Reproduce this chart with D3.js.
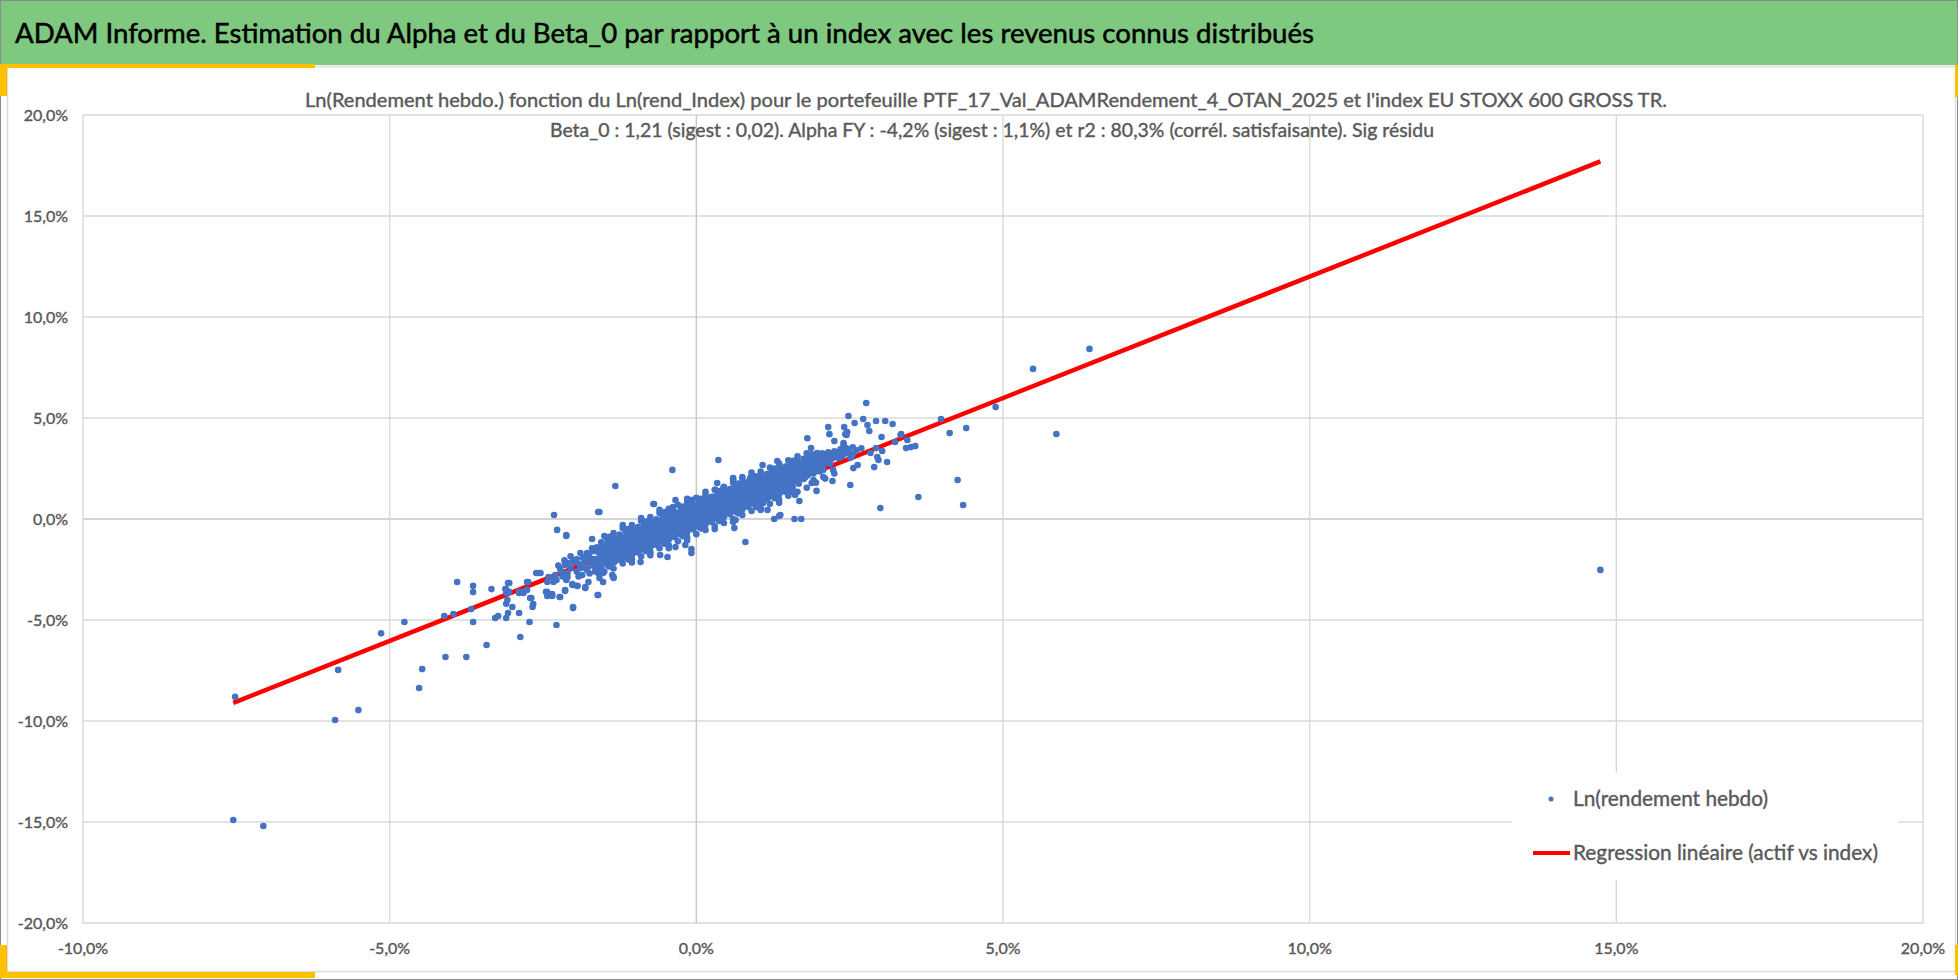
<!DOCTYPE html>
<html>
<head>
<meta charset="utf-8">
<script src="https://cdn.jsdelivr.net/npm/d3@7"></script>
<style>
body { margin: 0; background: #fff; }
svg text { font-family: Lato, "Noto Sans", sans-serif; }
</style>
</head>
<body>
<div id="chart"></div>
<script>
// texts
const mainTitle = "ADAM Informe. Estimation du Alpha et du Beta_0 par rapport à un index avec les revenus connus distribués";
const subTitle1 = "Ln(Rendement hebdo.) fonction du Ln(rend_Index) pour le portefeuille PTF_17_Val_ADAMRendement_4_OTAN_2025 et l'index EU STOXX 600 GROSS TR.";
const subTitle2 = "Beta_0 : 1,21 (sigest : 0,02).  Alpha FY : -4,2% (sigest : 1,1%) et r2 : 80,3% (corrél. satisfaisante). Sig résidu";
const legendLabels = ["Ln(rendement hebdo)", "Regression linéaire (actif vs index)"];

// axes (in %)
const xTicks = [-10, -5, 0, 5, 10, 15, 20];
const yTicks = [-20, -15, -10, -5, 0, 5, 10, 15, 20];

// regression line end points (index %, asset %)
const regX = [-7.55, 14.74];
const regY = [-9.1, 17.7];

// weekly log returns [index %, asset %] : lower-left tail
const tailLow = [
  [-7.55,-14.9],[-7.06,-15.2],[-7.52,-8.8],[-5.84,-7.47],[-5.51,-9.46],[-5.89,-9.95],[-5.14,-5.66],
  [-4.76,-5.1],[-4.52,-8.37],[-4.47,-7.43],[-4.09,-6.83],[-4.11,-4.8],[-3.96,-4.7],[-3.9,-3.12],
  [-3.75,-6.83],[-3.67,-4.46],[-3.64,-3.31],[-3.64,-3.62],[-3.64,-5.1],[-3.42,-6.24],[-3.34,-3.47],
  [-3.28,-4.9],[-3.23,-4.8],[-3.11,-3.47],[-3.1,-4.2],[-3.1,-4.9],[-3.07,-3.17],[-3.07,-4.65],
  [-3.0,-4.36],[-2.89,-4.65],[-2.89,-3.66],[-2.87,-5.84],[-2.82,-3.66],[-2.76,-3.12],[-2.72,-5.1],
  [-2.69,-3.91],[-2.66,-4.21],[-2.61,-2.67],[-2.54,-2.67],[-2.43,-3.12],[-2.43,-3.62],[-2.41,-2.87],
  [-2.35,-3.71],[-2.32,0.2],[-2.27,-0.54],[-2.12,-0.79],[-2.12,-0.84],[-2.32,-3.02],[-2.28,-5.25],
  [-2.22,-2.48],[-2.22,-3.86],[-2.14,-2.28],[-2.14,-3.52],[-2.1,-2.87],[-2.01,-4.41],[-2.02,-3.22],
  [-2.0,-2.13],[-1.94,-3.31],[-1.89,-1.68],[-1.89,-2.43],[-1.81,-3.42],[-1.76,-3.12],[-1.7,-0.99],
  [-1.78,-2.03],[-1.6,0.35],[-1.58,0.35],[-1.6,-3.76],[-1.61,-1.98],[-1.6,-2.67],[-1.6,-1.63],
  [-3.11,-3.47],[-3.05,-3.17],[-3.1,-3.66],[-3.08,-4.01],[-3.05,-3.61],[-2.89,-3.61],[-2.82,-3.61],
  [-2.74,-3.12],[-2.76,-3.51],[-2.71,-3.91],[-2.67,-4.36],[-2.59,-2.67],[-2.45,-3.61],[-2.43,-3.81],
  [-2.35,-3.81],[-2.33,-3.12],[-2.28,-3.02],[-2.23,-3.86],[-2.3,-2.77],[-2.12,-3.02],[-2.1,-2.67],
  [-2.14,-3.56],[-2.01,-2.03],[-2.02,-3.27],[-1.94,-3.32],[-2.01,-4.36],[-1.97,-2.13],[-1.84,-2.18],
  [-1.78,-1.68],[-1.78,-2.52],[-1.81,-3.37],[-1.86,-2.77],[-1.68,-1.98],[-1.65,-2.38],[-1.61,-2.62],
  [-1.58,-2.92],[-1.61,-3.76],[-1.52,-3.12],[-1.48,-1.93],[-1.45,-1.68],[-1.43,-1.39],[-1.4,-2.28],
  [-1.37,-2.77],[-1.35,-2.92],[-1.08,-2.03],[-0.91,-2.13],[-1.35,-2.87],[-1.52,-2.67],[-1.68,-2.18],
  [-2.1,-2.18],[-0.59,-1.78],[-0.47,-1.88],[-0.34,-1.39],[-0.18,-1.29],[-0.08,-1.49],[-0.08,-1.68],
  [-2.25,-2.3],[-2.2,-2.6],[-2.15,-2.05],[-2.05,-2.4],[-1.95,-2.0],[-1.9,-2.25],[-1.85,-1.9],
  [-1.75,-1.85],[-1.72,-2.3],[-1.68,-1.6],[-1.65,-2.6],[-2.05,-1.85],[-1.95,-2.6],[-1.8,-2.45],
  [-1.7,-1.45],[-1.92,-2.85],[-1.74,-2.7],[-2.18,-2.85]
];

// upper-right tail and scattered points
const tailHigh = [
  [-1.32,1.63],[-0.69,0.74],[-0.7,0.74],[-0.39,2.43],[-0.08,0.94],[0.36,2.92],[0.8,-1.14],
  [1.27,0],[1.37,0.2],[1.35,0.15],[1.6,0],[1.71,0],[1.16,0.45],[0.98,0.59],[1.68,0.89],[1.61,1.19],
  [1.96,1.39],[1.91,1.83],[2.22,1.88],[2.51,1.68],[3.0,0.54],[3.62,1.09],[1.81,4.0],[2.15,4.55],
  [2.17,4.2],[2.25,3.86],[2.48,5.1],[2.41,4.55],[2.58,4.75],[2.72,4.95],[2.77,5.74],[2.79,4.65],
  [2.82,4.36],[2.93,4.85],[3.08,4.85],[3.2,4.7],[3.02,4.06],[2.4,3.76],[2.43,4.2],[2.46,4.31],
  [3.34,4.2],[3.24,3.81],[3.44,3.91],[3.42,3.51],[3.57,3.61],[3.5,3.56],[3.99,4.95],[4.13,4.26],
  [2.95,3.07],[2.97,2.92],[3.11,2.82],[2.9,2.57],[2.84,3.27],[2.63,2.67],[2.56,2.52],[2.23,2.43],
  [2.07,2.43],[1.89,3.02],[1.97,3.27],[1.87,3.51],[3.03,3.37],[4.4,4.5],[4.88,5.54],[5.49,7.43],
  [6.41,8.42],[5.87,4.21],[4.26,1.93],[4.35,0.69],[3.33,4.16],[2.93,3.51],[14.74,-2.52],
  [2.45,4.16],[2.4,3.66],[2.48,3.42],[2.27,3.17],[2.32,3.02],[-0.34,0.94],[-0.38,0.59],[-0.42,0.35],
  [-0.51,0.35],[-0.07,0.94],[0.31,1.44],[0.34,1.78],[0.44,1.53],[0.6,2.03],[0.75,2.08],[0.88,2.03],
  [1.08,2.67],[1.32,2.87],[1.58,2.82],[1.7,2.67],[0.67,0.35],[0.64,-0.05],[0.62,-0.45],[0.96,0.84],
  [1.09,0.79],[1.37,1.44],[1.53,1.34],[1.66,1.93],[1.78,2.08],[1.91,1.93],[2.07,2.08]
];

// dense core of the cloud
const core = [
  [-1.62,-1.4],[-1.58,-1.7],[-1.63,-2.0],[-1.57,-2.3],[-1.6,-1.55],[-1.64,-2.15],
  [-1.52,-1.3],[-1.48,-1.6],[-1.51,-1.9],[-1.47,-2.2],[-1.53,-1.75],
  [-1.41,-1.1],[-1.38,-1.45],[-1.42,-1.7],[-1.39,-2.0],[-1.43,-2.3],
  [-1.31,-1.0],[-1.28,-1.3],[-1.32,-1.55],[-1.29,-1.85],[-1.33,-2.1],
  [-1.21,-0.95],[-1.18,-1.2],[-1.22,-1.45],[-1.19,-1.7],[-1.23,-2.0],
  [-1.11,-0.8],[-1.08,-1.05],[-1.12,-1.3],[-1.09,-1.6],[-1.13,-1.85],
  [-1.01,-0.6],[-0.98,-0.9],[-1.02,-1.15],[-0.99,-1.4],[-1.03,-1.7],
  [-0.91,-0.5],[-0.88,-0.8],[-0.92,-1.05],[-0.89,-1.3],[-0.93,-1.55],
  [-0.81,-0.35],[-0.78,-0.65],[-0.82,-0.9],[-0.79,-1.15],[-0.83,-1.45],
  [-0.71,-0.2],[-0.68,-0.5],[-0.72,-0.75],[-0.69,-1.0],[-0.73,-1.3],
  [-0.61,-0.1],[-0.58,-0.4],[-0.62,-0.6],[-0.59,-0.85],[-0.63,-1.15],
  [-0.51,0.05],[-0.48,-0.25],[-0.52,-0.5],[-0.49,-0.75],[-0.53,-1.0],
  [-0.41,0.15],[-0.38,-0.1],[-0.42,-0.35],[-0.39,-0.6],[-0.43,-0.9],
  [-0.31,0.3],[-0.28,0.05],[-0.32,-0.2],[-0.29,-0.45],[-0.33,-0.75],
  [-0.21,0.45],[-0.18,0.15],[-0.22,-0.1],[-0.19,-0.35],[-0.23,-0.6],
  [-0.11,0.6],[-0.08,0.3],[-0.12,0.05],[-0.09,-0.2],[-0.13,-0.5],
  [-0.01,0.7],[0.02,0.45],[-0.02,0.2],[0.01,-0.05],[-0.03,-0.35],
  [0.09,0.85],[0.12,0.55],[0.08,0.3],[0.11,0.05],[0.07,-0.25],
  [0.19,1.0],[0.22,0.7],[0.18,0.45],[0.21,0.2],[0.17,-0.1],
  [0.29,1.1],[0.32,0.8],[0.28,0.55],[0.31,0.3],[0.27,0.0],
  [0.39,1.2],[0.42,0.95],[0.38,0.7],[0.41,0.45],[0.37,0.15],
  [0.49,1.35],[0.52,1.05],[0.48,0.8],[0.51,0.55],[0.47,0.25],
  [0.59,1.5],[0.62,1.2],[0.58,0.95],[0.61,0.65],[0.57,0.4],
  [0.69,1.6],[0.72,1.3],[0.68,1.05],[0.71,0.8],[0.67,0.5],
  [0.79,1.75],[0.82,1.45],[0.78,1.2],[0.81,0.9],[0.77,0.6],
  [0.89,1.85],[0.92,1.55],[0.88,1.3],[0.91,1.05],[0.87,0.75],
  [0.99,2.0],[1.02,1.7],[0.98,1.45],[1.01,1.15],[0.97,0.85],
  [1.09,2.1],[1.12,1.8],[1.08,1.55],[1.11,1.3],[1.07,1.0],
  [1.19,2.25],[1.22,1.95],[1.18,1.7],[1.21,1.4],[1.17,1.1],
  [1.29,2.35],[1.32,2.05],[1.28,1.8],[1.31,1.55],[1.27,1.25],
  [1.39,2.5],[1.42,2.2],[1.38,1.9],[1.41,1.65],[1.37,1.35],
  [1.49,2.6],[1.52,2.3],[1.48,2.05],[1.51,1.8],[1.47,1.5],
  [1.59,2.7],[1.62,2.45],[1.58,2.2],[1.61,1.9],[1.57,1.6],
  [1.69,2.8],[1.72,2.55],[1.68,2.3],[1.71,2.05],[1.67,1.75],
  [1.79,2.9],[1.82,2.65],[1.78,2.4],[1.81,2.15],
  [1.89,3.0],[1.92,2.75],[1.88,2.5],[1.91,2.25],
  [1.99,3.1],[2.02,2.85],[1.98,2.6],[2.01,2.35],
  [2.09,3.15],[2.12,2.95],[2.08,2.7],
  [2.19,3.2],[2.22,3.0],[2.18,2.75],
  [2.29,3.3],[2.32,3.05],[2.41,3.35],[2.38,3.1],
  [2.49,3.3],[2.52,3.05],[2.61,3.4],[2.69,3.5]
];

// more points inside the core, between the ones above
const coreFill = [
  [-1.55,-1.15],[-1.55,-1.4],[-1.55,-1.65],[-1.55,-1.9],[-1.55,-2.15],[-1.55,-2.4],
  [-1.45,-1.02],[-1.45,-1.27],[-1.45,-1.52],[-1.45,-1.77],[-1.45,-2.02],[-1.45,-2.27],
  [-1.35,-0.9],[-1.35,-1.15],[-1.35,-1.4],[-1.35,-1.65],[-1.35,-1.9],[-1.35,-2.15],
  [-1.25,-0.77],[-1.25,-1.02],[-1.25,-1.27],[-1.25,-1.52],[-1.25,-1.77],[-1.25,-2.02],
  [-1.15,-0.65],[-1.15,-0.9],[-1.15,-1.15],[-1.15,-1.4],[-1.15,-1.65],[-1.15,-1.9],
  [-1.05,-0.52],[-1.05,-0.77],[-1.05,-1.02],[-1.05,-1.27],[-1.05,-1.52],[-1.05,-1.77],
  [-0.95,-0.4],[-0.95,-0.65],[-0.95,-0.9],[-0.95,-1.15],[-0.95,-1.4],[-0.95,-1.65],
  [-0.85,-0.27],[-0.85,-0.52],[-0.85,-0.77],[-0.85,-1.02],[-0.85,-1.27],[-0.85,-1.52],
  [-0.75,-0.15],[-0.75,-0.4],[-0.75,-0.65],[-0.75,-0.9],[-0.75,-1.15],[-0.75,-1.4],
  [-0.65,-0.02],[-0.65,-0.27],[-0.65,-0.52],[-0.65,-0.77],[-0.65,-1.02],[-0.65,-1.27],
  [-0.55,0.1],[-0.55,-0.15],[-0.55,-0.4],[-0.55,-0.65],[-0.55,-0.9],[-0.55,-1.15],
  [-0.45,0.23],[-0.45,-0.02],[-0.45,-0.27],[-0.45,-0.52],[-0.45,-0.77],[-0.45,-1.02],
  [-0.35,0.35],[-0.35,0.1],[-0.35,-0.15],[-0.35,-0.4],[-0.35,-0.65],[-0.35,-0.9],
  [-0.25,0.48],[-0.25,0.23],[-0.25,-0.02],[-0.25,-0.27],[-0.25,-0.52],[-0.25,-0.77],
  [-0.15,0.6],[-0.15,0.35],[-0.15,0.1],[-0.15,-0.15],[-0.15,-0.4],[-0.15,-0.65],
  [-0.05,0.73],[-0.05,0.48],[-0.05,0.23],[-0.05,-0.02],[-0.05,-0.27],[-0.05,-0.52],
  [0.05,0.85],[0.05,0.6],[0.05,0.35],[0.05,0.1],[0.05,-0.15],[0.05,-0.4],
  [0.15,0.98],[0.15,0.73],[0.15,0.48],[0.15,0.23],[0.15,-0.02],[0.15,-0.27],
  [0.25,1.1],[0.25,0.85],[0.25,0.6],[0.25,0.35],[0.25,0.1],[0.25,-0.15],
  [0.35,1.23],[0.35,0.98],[0.35,0.73],[0.35,0.48],[0.35,0.23],[0.35,-0.02],
  [0.45,1.35],[0.45,1.1],[0.45,0.85],[0.45,0.6],[0.45,0.35],[0.45,0.1],
  [0.55,1.48],[0.55,1.23],[0.55,0.98],[0.55,0.73],[0.55,0.48],[0.55,0.23],
  [0.65,1.6],[0.65,1.35],[0.65,1.1],[0.65,0.85],[0.65,0.6],[0.65,0.35],
  [0.75,1.73],[0.75,1.48],[0.75,1.23],[0.75,0.98],[0.75,0.73],[0.75,0.48],
  [0.85,1.85],[0.85,1.6],[0.85,1.35],[0.85,1.1],[0.85,0.85],[0.85,0.6],
  [0.95,1.98],[0.95,1.73],[0.95,1.48],[0.95,1.23],[0.95,0.98],[0.95,0.73],
  [1.05,2.1],[1.05,1.85],[1.05,1.6],[1.05,1.35],[1.05,1.1],[1.05,0.85],
  [1.15,2.23],[1.15,1.98],[1.15,1.73],[1.15,1.48],[1.15,1.23],[1.15,0.98],
  [1.25,2.35],[1.25,2.1],[1.25,1.85],[1.25,1.6],[1.25,1.35],[1.25,1.1],
  [1.35,2.48],[1.35,2.23],[1.35,1.98],[1.35,1.73],[1.35,1.48],[1.35,1.23],
  [1.45,2.6],[1.45,2.35],[1.45,2.1],[1.45,1.85],[1.45,1.6],[1.45,1.35],
  [1.55,2.73],[1.55,2.48],[1.55,2.23],[1.55,1.98],[1.55,1.73],[1.55,1.48],
  [1.65,2.85],[1.65,2.6],[1.65,2.35],[1.65,2.1],[1.65,1.85],
  [1.75,2.98],[1.75,2.73],[1.75,2.48],[1.75,2.23],[1.75,1.98],
  [1.85,3.1],[1.85,2.85],[1.85,2.6],[1.85,2.35],
  [1.95,3.2],[1.95,2.95],[1.95,2.7],[1.95,2.45],
  [2.05,3.25],[2.05,3.0],[2.05,2.75],
  [2.15,3.3],[2.15,3.05],[2.15,2.8],
  [2.25,3.35],[2.25,3.1],[2.35,3.45],[2.35,3.2],
  [2.45,3.5],[2.45,3.25],[2.55,3.55],[2.55,3.2]
];

// ragged outer edge of the core
const coreEdge = [
  [-1.5,-0.85],[-1.5,-2.6],[-1.35,-0.7],[-1.35,-2.45],[-1.2,-0.45],[-1.2,-0.3],[-1.2,-2.2],
  [-1.05,-0.3],[-1.05,-2.0],[-1.05,-2.15],[-0.9,-0.1],[-0.9,0.05],[-0.9,-1.85],[-0.75,0.1],
  [-0.75,-1.65],[-0.75,-1.8],[-0.6,0.3],[-0.6,0.45],[-0.6,-1.45],[-0.45,0.5],[-0.45,-1.3],
  [-0.45,-1.45],[-0.3,0.7],[-0.3,-1.1],[-0.15,0.85],[-0.15,1.0],[-0.15,-0.9],[-0.15,-1.05],
  [0.0,1.05],[0.0,-0.75],[0.15,1.2],[0.15,1.35],[0.15,-0.55],[0.3,1.45],[0.3,-0.35],[0.3,-0.5],
  [0.45,1.6],[0.45,-0.2],[0.6,1.8],[0.6,1.95],[0.6,0.0],[0.6,-0.15],[0.75,2.0],[0.75,0.2],
  [0.9,2.15],[0.9,2.3],[0.9,0.4],[1.05,2.35],[1.05,0.55],[1.05,0.45],[1.2,2.55],[1.2,0.75],
  [1.35,2.75],[1.35,0.95],[1.35,0.8],[1.5,2.9],[1.5,1.15],[1.65,3.1],[1.65,1.35],[1.8,3.25],
  [1.8,1.55],[1.95,1.8],[2.1,2.0],[2.25,2.25],
  [-1.42,-0.88],[-1.42,-2.35],[-1.12,-0.5],[-1.12,-1.98],[-0.82,-0.12],[-0.82,-1.6],
  [-0.52,0.26],[-0.52,-1.22],[-0.22,0.62],[-0.22,-0.85],[0.08,1.0],[0.08,-0.47],
  [0.38,1.38],[0.38,-0.1],[0.68,1.75],[0.68,0.28],[0.98,2.12],[0.98,0.65],
  [1.28,2.5],[1.28,1.03],[1.58,2.88],[1.58,1.4],[1.88,3.2],[1.88,1.78]
];

const points = tailLow.concat(tailHigh, core, coreFill, coreEdge);

const W = 1958, H = 980;
const svg = d3.select("#chart").append("svg")
    .attr("width", W)
    .attr("height", H);

// frame and header
svg.append("rect").attr("x", 0.5).attr("y", 0.5).attr("width", W - 1).attr("height", H - 1)
    .style("fill", "#fff").style("stroke", "#8c8c8c");
svg.append("rect").attr("x", 1).attr("y", 1).attr("width", W - 2).attr("height", 64)
    .style("fill", "#7ec87f");
svg.append("rect").attr("x", 7.5).attr("y", 66.5).attr("width", 1948).attr("height", 905)
    .style("fill", "#fff").style("stroke", "#dcdcdc").style("stroke-width", 1.5);

const gold = "#ffc000";
[[0, 64, 315, 4], [0, 64, 7, 32], [0, 945, 7, 33], [0, 972, 315, 6], [1955, 65, 3, 32], [1955, 945, 3, 30]]
    .forEach(r => svg.append("rect").attr("x", r[0]).attr("y", r[1]).attr("width", r[2]).attr("height", r[3])
        .style("fill", gold));

svg.append("text")
    .attr("x", 15).attr("y", 34)
    .attr("dy", "0.35em")
    .attr("textLength", 1299)
    .attr("lengthAdjust", "spacingAndGlyphs")
    .style("font-size", "27px")
    .style("fill", "#000")
    .style("stroke", "#000")
    .style("stroke-width", 0.5)
    .text(mainTitle);

// plot area
const x = d3.scaleLinear().domain([-10, 20]).range([83, 1923]);
const y = d3.scaleLinear().domain([-20, 20]).range([923, 115]);

const locale = d3.formatLocale({ decimal: ",", thousands: " ", grouping: [3], currency: ["", " €"], minus: "-" });
const fmt = locale.format(".1%");

const grid = svg.append("g").attr("class", "grid");
grid.selectAll("line.h").data(yTicks).enter().append("line")
    .attr("class", "h")
    .attr("x1", x(-10)).attr("x2", x(20))
    .attr("y1", d => y(d)).attr("y2", d => y(d))
    .style("stroke", d => d === 0 ? "#c6c6c6" : "#d9d9d9")
    .style("stroke-width", 1.4);
grid.selectAll("line.v").data(xTicks).enter().append("line")
    .attr("class", "v")
    .attr("y1", y(-20)).attr("y2", y(20))
    .attr("x1", d => x(d)).attr("x2", d => x(d))
    .style("stroke", d => d === 0 ? "#c6c6c6" : "#d9d9d9")
    .style("stroke-width", 1.4);

svg.append("g").selectAll("text").data(yTicks).enter().append("text")
    .attr("x", 68).attr("y", d => y(d))
    .attr("dy", "0.35em")
    .style("text-anchor", "end")
    .style("font-size", "16px")
    .style("fill", "#595959")
    .style("stroke", "#595959")
    .style("stroke-width", 0.4)
    .text(d => fmt(d / 100));

svg.append("g").selectAll("text").data(xTicks).enter().append("text")
    .attr("x", d => x(d)).attr("y", 948)
    .attr("dy", "0.35em")
    .style("text-anchor", "middle")
    .style("font-size", "16px")
    .style("fill", "#595959")
    .style("stroke", "#595959")
    .style("stroke-width", 0.4)
    .text(d => fmt(d / 100));

// chart titles
svg.append("text")
    .attr("x", 986).attr("y", 100)
    .attr("dy", "0.35em")
    .attr("textLength", 1362)
    .attr("lengthAdjust", "spacingAndGlyphs")
    .style("text-anchor", "middle")
    .style("font-size", "20px")
    .style("fill", "#595959")
    .style("stroke", "#595959")
    .style("stroke-width", 0.4)
    .text(subTitle1);
svg.append("text")
    .attr("x", 992).attr("y", 130)
    .attr("dy", "0.35em")
    .attr("textLength", 884)
    .attr("lengthAdjust", "spacingAndGlyphs")
    .style("text-anchor", "middle")
    .style("font-size", "20px")
    .style("fill", "#595959")
    .style("stroke", "#595959")
    .style("stroke-width", 0.4)
    .text(subTitle2);

// regression line
const regLine = d3.line().x(d => x(d[0])).y(d => y(d[1]));
svg.append("path")
    .datum(regX.map((v, i) => [v, regY[i]]))
    .attr("d", regLine)
    .style("fill", "none")
    .style("stroke", "#ff0000")
    .style("stroke-width", 4.5);

// scatter
svg.append("g").selectAll("circle").data(points).enter().append("circle")
    .attr("cx", d => x(d[0]))
    .attr("cy", d => y(d[1]))
    .attr("r", 3.3)
    .style("fill", "#4472c4");

// legend
const lg = svg.append("g");
lg.append("rect").attr("x", 1512).attr("y", 773).attr("width", 386).attr("height", 107)
    .style("fill", "#fff");
lg.append("circle").attr("cx", 1551).attr("cy", 799).attr("r", 2.5).style("fill", "#4472c4");
lg.append("line").attr("x1", 1533).attr("x2", 1570).attr("y1", 853).attr("y2", 853)
    .style("stroke", "#ff0000").style("stroke-width", 4);
lg.selectAll("text").data(legendLabels).enter().append("text")
    .attr("x", 1573).attr("y", (d, i) => i === 0 ? 799 : 853)
    .attr("dy", "0.35em")
    .attr("textLength", (d, i) => i === 0 ? 195 : 305)
    .attr("lengthAdjust", "spacingAndGlyphs")
    .style("font-size", "21px")
    .style("fill", "#595959")
    .style("stroke", "#595959")
    .style("stroke-width", 0.4)
    .text(d => d);
</script>
</body>
</html>
